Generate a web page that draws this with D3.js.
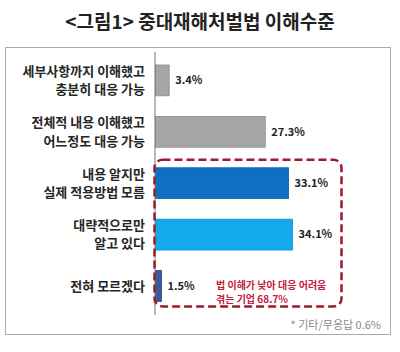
<html>

<head>
    <meta charset="utf-8">
    <script src="https://d3js.org/d3.v7.min.js"></script>
    <style>
        body {
            margin: 0;
            background: #fff;
        }

        text {
            font-family: "Noto Sans CJK KR", "Noto Sans", sans-serif;
        }
    </style>
</head>

<body>
    <svg height="352" width="400" id="chartSvg"></svg>
    <script>
        // data
        const categories = [
            ["세부사항까지 이해했고", "충분히 대응 가능"],
            ["전체적 내용 이해했고", "어느정도 대응 가능"],
            ["내용 알지만", "실제 적용방법 모름"],
            ["대략적으로만", "알고 있다"],
            ["전혀 모르겠다"]
        ];
        const values = [3.4, 27.3, 33.1, 34.1, 1.5];
        const barColors = ["#a6a6a6", "#a6a6a6", "#0f6fc3", "#12aaec", "#3b5c9c"];
        const barStrokes = ["#8c8c8c", "#8c8c8c", "#0b5aa0", "#0c8fcc", "#2c4678"];
        const title = "<그림1> 중대재해처벌법 이해수준";
        const noteLines = ["법 이해가 낮아 대응 어려움", "겪는 기업 68.7%"];
        const footnote = "* 기타/무응답 0.6%";

        const svg = d3.select("#chartSvg");

        // title
        svg.append("text")
            .attr("x", 200)
            .attr("y", 29)
            .attr("text-anchor", "middle")
            .style("font-size", "19px")
            .style("font-weight", "bold")
            .style("fill", "#222")
            .text(title);

        // dotted frame
        svg.append("rect")
            .attr("x", 5.5).attr("y", 47.5)
            .attr("width", 385).attr("height", 287)
            .attr("fill", "none")
            .attr("stroke", "#555")
            .attr("stroke-width", 1)
            .attr("stroke-dasharray", "1,1");

        const keys = categories.map(d => d.join(" "));
        const yScale = d3.scaleBand().domain(keys)
            .range([54.7, 311.7])
            .paddingInner(0.4)
            .paddingOuter(0.2);
        const xScale = d3.scaleLinear().domain([0, 40])
            .range([155.5, 155.5 + 160.8]);

        const chartArea = svg.append("g");

        chartArea.selectAll("rect.bar").data(values)
            .join("rect")
            .attr("class", "bar")
            .attr("x", xScale(0))
            .attr("y", (d, i) => yScale(keys[i]))
            .attr("width", d => xScale(d) - xScale(0))
            .attr("height", yScale.bandwidth())
            .attr("fill", (d, i) => barColors[i])
            .attr("stroke", (d, i) => barStrokes[i])
            .attr("stroke-width", 0.8);

        // value labels
        chartArea.selectAll("text.val").data(values)
            .join("text")
            .attr("class", "val")
            .attr("x", d => xScale(d) + 6)
            .attr("y", (d, i) => yScale(keys[i]) + yScale.bandwidth() / 2)
            .attr("dy", "0.35em")
            .style("font-size", "11px")
            .style("font-weight", "bold")
            .style("fill", "#222")
            .text(d => d + "%");

        // axis line
        let leftAxis = d3.axisLeft(yScale).tickSize(0).tickFormat("");
        svg.append("g")
            .attr("class", "y axis")
            .attr("transform", `translate(155,0)`)
            .call(leftAxis)
            .call(g => g.select(".domain").attr("stroke", "#777").attr("d", "M0,52V315"));

        // category labels (one or two lines)
        const labels = svg.selectAll("text.cat").data(categories)
            .join("text")
            .attr("class", "cat")
            .attr("text-anchor", "end")
            .style("font-size", "13px")
            .style("font-weight", "bold")
            .style("fill", "#262626")
            .attr("transform", (d, i) => `translate(145,${yScale(keys[i]) + yScale.bandwidth() / 2})`);
        labels.selectAll("tspan").data(d => d.map((t, j) => ({ t, j, n: d.length })))
            .join("tspan")
            .attr("x", 0)
            .attr("y", d => (d.j - (d.n - 1) / 2) * 18.5)
            .attr("dy", "0.35em")
            .text(d => d.t);

        // dashed highlight box around the three lower bars
        const boxTop = yScale(keys[2]) - 8;
        const boxBottom = yScale(keys[4]) + yScale.bandwidth() + 5;
        svg.append("rect")
            .attr("x", 154.5).attr("y", boxTop)
            .attr("width", 187).attr("height", boxBottom - boxTop)
            .attr("rx", 8)
            .attr("fill", "none")
            .attr("stroke", "#9b1b2d")
            .attr("stroke-width", 2.5)
            .attr("stroke-dasharray", "8,4");

        svg.selectAll("text.note").data(noteLines)
            .join("text")
            .attr("class", "note")
            .attr("x", 216)
            .attr("y", (d, i) => 288.5 + i * 14.5)
            .style("font-size", "10px")
            .style("font-weight", "bold")
            .style("fill", "#c4203c")
            .text(d => d);

        svg.append("text")
            .attr("x", 381)
            .attr("y", 329)
            .attr("text-anchor", "end")
            .style("font-size", "11px")
            .style("fill", "#8a8a8a")
            .text(footnote);
    </script>
</body>

</html>
